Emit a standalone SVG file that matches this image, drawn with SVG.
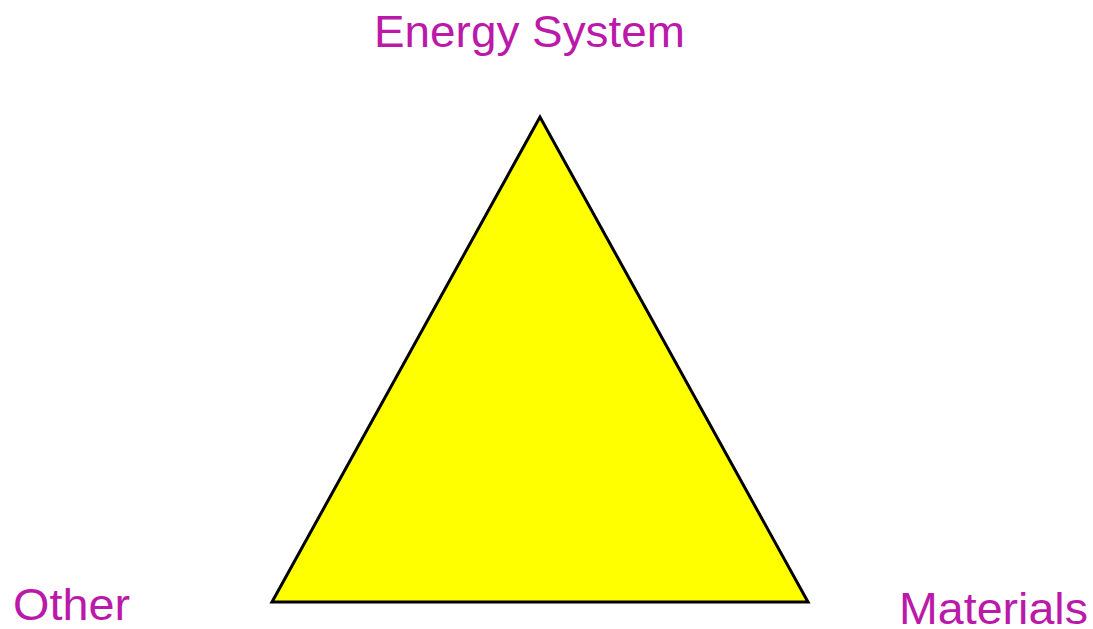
<svg xmlns="http://www.w3.org/2000/svg" width="1093" height="629" viewBox="0 0 1093 629">
<style>
.lbl{font-family:"Liberation Sans",Arial,sans-serif;font-size:44px;fill:#bb19a9}
</style>
<rect width="1093" height="629" fill="#ffffff"/>
<g id="triangle">
<polygon points="540,117 272,602 808,602" fill="#ffff00" stroke="#000000" stroke-width="3" stroke-linejoin="miter"/>
</g>
<g id="energy-system"><text class="lbl" x="374" y="47" textLength="311" lengthAdjust="spacingAndGlyphs">Energy System</text></g>
<g id="other"><text class="lbl" x="13" y="620" textLength="117" lengthAdjust="spacingAndGlyphs">Other</text></g>
<g id="materials"><text class="lbl" x="899" y="624" textLength="189" lengthAdjust="spacingAndGlyphs">Materials</text></g>
</svg>
